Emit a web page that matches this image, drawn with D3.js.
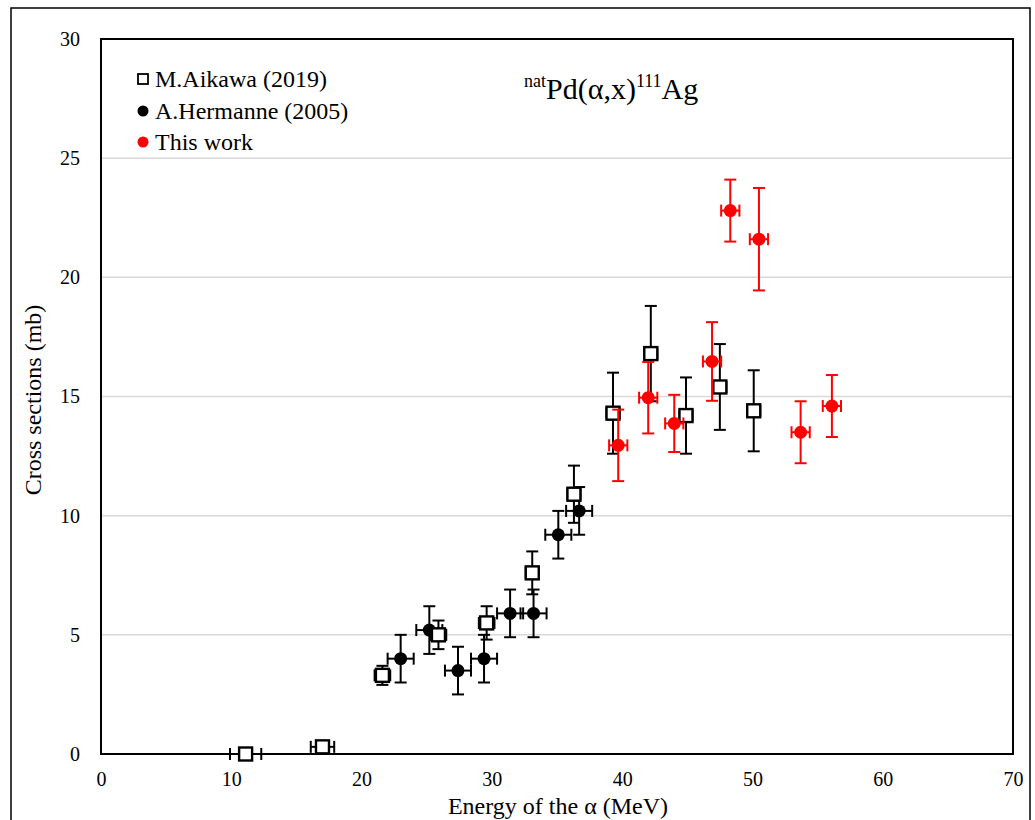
<!DOCTYPE html>
<html><head><meta charset="utf-8">
<script src="https://cdn.jsdelivr.net/npm/d3@7"></script>
<style>body{margin:0;background:#fff;} text{font-family:"Liberation Serif","Times New Roman",serif;}</style>
</head><body>
<svg id="c" width="1035" height="820"></svg>
<script>
// Data
const aikawaE   = [11.1, 17.0, 21.6, 25.9, 29.6, 33.1, 36.3, 39.3, 42.2, 44.9, 47.5, 50.1];
const aikawaEerr= [1.2, 0.9, 0.6, 0.6, 0.6, 0.5, 0.5, 0.5, 0.5, 0.5, 0.5, 0.5];
const aikawaXS  = [0.0, 0.3, 3.3, 5.0, 5.5, 7.6, 10.9, 14.3, 16.8, 14.2, 15.4, 14.4];
const aikawaErr = [0.0, 0.2, 0.4, 0.6, 0.7, 0.9, 1.2, 1.7, 2.0, 1.6, 1.8, 1.7];

const hermE    = [23.0, 25.2, 27.4, 29.4, 31.4, 33.2, 35.1, 36.7];
const hermEerr = [1.0, 1.0, 1.0, 1.0, 1.0, 1.0, 1.0, 1.0];
const hermXS   = [4.0, 5.2, 3.5, 4.0, 5.9, 5.9, 9.2, 10.2];
const hermErr  = [1.0, 1.0, 1.0, 1.0, 1.0, 1.0, 1.0, 1.0];

const thisE    = [39.7, 42.0, 44.0, 46.9, 48.3, 50.5, 53.7, 56.1];
const thisEerr = [0.7, 0.7, 0.7, 0.7, 0.7, 0.7, 0.7, 0.7];
const thisXS   = [12.95, 14.95, 13.87, 16.47, 22.8, 21.6, 13.5, 14.6];
const thisErr  = [1.5, 1.5, 1.2, 1.65, 1.3, 2.15, 1.3, 1.3];

const xTicks = [0, 10, 20, 30, 40, 50, 60, 70];
const yTicks = [0, 5, 10, 15, 20, 25, 30];
const legendLabels = ["M.Aikawa (2019)", "A.Hermanne (2005)", "This work"];

const svg = d3.select("#c");
const L = 101, R = 1013, T = 39, B = 754;
const x = d3.scaleLinear().domain([0, 70]).range([L, R]);
const y = d3.scaleLinear().domain([0, 30]).range([B, T]);

// outer chart border
svg.append("rect").attr("x", 11).attr("y", 8).attr("width", 1019).attr("height", 830)
  .attr("fill", "none").attr("stroke", "#000").attr("stroke-width", 1.5);

// gridlines
svg.append("g").selectAll("line").data(yTicks.filter(v => v > 0 && v < 30)).join("line")
  .attr("x1", L).attr("x2", R).attr("y1", d => y(d)).attr("y2", d => y(d))
  .attr("stroke", "#d9d9d9").attr("stroke-width", 1.5);

// axes labels via d3 axes
const xAxis = svg.append("g").attr("transform", `translate(0,${B})`)
  .call(d3.axisBottom(x).tickValues(xTicks).tickSize(0).tickPadding(18));
xAxis.select(".domain").remove();
xAxis.selectAll("text").attr("font-size", 20).attr("font-family", "Liberation Serif").attr("fill", "#000");

const yAxis = svg.append("g").attr("transform", `translate(${L},0)`)
  .call(d3.axisLeft(y).tickValues(yTicks).tickSize(0).tickPadding(21));
yAxis.select(".domain").remove();
yAxis.selectAll("text").attr("font-size", 20).attr("font-family", "Liberation Serif").attr("fill", "#000");

// plot frame
svg.append("rect").attr("x", L).attr("y", T).attr("width", R - L).attr("height", B - T)
  .attr("fill", "none").attr("stroke", "#000").attr("stroke-width", 2);

// axis titles
svg.append("text").attr("x", 558).attr("y", 814).attr("text-anchor", "middle")
  .attr("font-size", 24).text("Energy of the α (MeV)");
svg.append("text").attr("transform", "translate(41,400) rotate(-90)").attr("text-anchor", "middle")
  .attr("font-size", 24).text("Cross sections (mb)");

// error bars helper
function errBars(E, Eerr, V, Verr, color) {
  const g = svg.append("g").attr("stroke", color).attr("stroke-width", 2).attr("fill", "none");
  E.forEach((e, i) => {
    const cx = x(e), cy = y(V[i]);
    if (Verr[i] > 0) {
      const y1 = y(V[i] + Verr[i]), y2 = y(Math.max(0, V[i] - Verr[i]));
      g.append("line").attr("x1", cx).attr("x2", cx).attr("y1", y1).attr("y2", y2);
      g.append("line").attr("x1", cx - 6).attr("x2", cx + 6).attr("y1", y1).attr("y2", y1);
      g.append("line").attr("x1", cx - 6).attr("x2", cx + 6).attr("y1", y2).attr("y2", y2);
    }
    const x1 = x(e - Eerr[i]), x2 = x(e + Eerr[i]);
    g.append("line").attr("x1", x1).attr("x2", x2).attr("y1", cy).attr("y2", cy);
    g.append("line").attr("x1", x1).attr("x2", x1).attr("y1", cy - 6).attr("y2", cy + 6);
    g.append("line").attr("x1", x2).attr("x2", x2).attr("y1", cy - 6).attr("y2", cy + 6);
  });
}

// Hermanne
errBars(hermE, hermEerr, hermXS, hermErr, "#000");
svg.append("g").selectAll("circle").data(hermE).join("circle")
  .attr("cx", d => x(d)).attr("cy", (d, i) => y(hermXS[i])).attr("r", 6.5).attr("fill", "#000");

// Aikawa
errBars(aikawaE, aikawaEerr, aikawaXS, aikawaErr, "#000");
svg.append("g").selectAll("rect").data(aikawaE).join("rect")
  .attr("x", d => x(d) - 6.5).attr("y", (d, i) => y(aikawaXS[i]) - 6.5)
  .attr("width", 13).attr("height", 13).attr("fill", "#fff").attr("stroke", "#000").attr("stroke-width", 2.4);

// This work
errBars(thisE, thisEerr, thisXS, thisErr, "#ff0000");
svg.append("g").selectAll("circle").data(thisE).join("circle")
  .attr("cx", d => x(d)).attr("cy", (d, i) => y(thisXS[i])).attr("r", 6.5).attr("fill", "#ff0000");

// legend
const lg = svg.append("g");
lg.append("rect").attr("x", 138).attr("y", 74).attr("width", 10).attr("height", 10)
  .attr("fill", "#fff").attr("stroke", "#000").attr("stroke-width", 1.8);
lg.append("circle").attr("cx", 143).attr("cy", 111).attr("r", 5.5).attr("fill", "#000");
lg.append("circle").attr("cx", 143).attr("cy", 142).attr("r", 5.5).attr("fill", "#ff0000");
legendLabels.forEach((t, i) => {
  lg.append("text").attr("x", 155).attr("y", 87 + i * 31.5).attr("font-size", 24).text(t);
});

// title
const tt = svg.append("text").attr("x", 524).attr("y", 99).attr("font-size", 30);
tt.append("tspan").attr("font-size", 18).attr("dy", -12).text("nat");
tt.append("tspan").attr("dy", 12).text("Pd(α,x)");
tt.append("tspan").attr("font-size", 18).attr("dy", -12).text("111");
tt.append("tspan").attr("dy", 12).text("Ag");
</script>
</body></html>
